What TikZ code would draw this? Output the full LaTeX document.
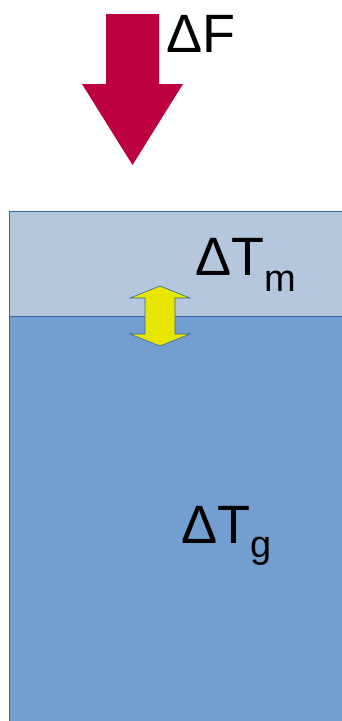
\documentclass[tikz,border=0pt]{standalone}
\usepackage{fontspec}
\setmainfont{Liberation Sans}
\definecolor{forcered}{RGB}{190,0,65}
\definecolor{mixlight}{RGB}{180,199,220}
\definecolor{deepblue}{RGB}{114,159,207}
\definecolor{edgeblue}{RGB}{52,101,164}
\definecolor{arrowyellow}{RGB}{230,230,0}
\tikzset{
  biglabel/.style={anchor=base west, inner sep=0pt, outer sep=0pt, font=\fontsize{54}{58}\selectfont},
  layer/.style={draw=edgeblue, line width=0.8pt},
}
\newcommand{\sublbl}[2]{\raisebox{-#2pt}{\fontsize{38}{40}\selectfont #1}}
\begin{document}
\begin{tikzpicture}[x=1pt,y=1pt]
\useasboundingbox (0,0) rectangle (341,-721);
% layers
\fill[deepblue] (9,-316) rectangle (346,-726);
\fill[mixlight] (9,-211) rectangle (346,-316);
\draw[layer] (346,-211) -- (9,-211) -- (9,-726);
\draw[layer] (9,-316) -- (346,-316);
% forcing arrow
\fill[forcered] (106,-14) -- (159,-14) -- (159,-84) -- (183,-84) -- (132.5,-165) -- (82,-84) -- (106,-84) -- cycle;
% exchange double arrow
\filldraw[fill=arrowyellow, draw=edgeblue, line width=0.6pt]
  (160,-286) -- (190,-298) -- (175,-298) -- (175,-334) -- (190,-334) -- (160,-346)
  -- (130,-334) -- (145,-334) -- (145,-298) -- (130,-298) -- cycle;
% labels
\node[biglabel] (dF) at (166,-52) {ΔF};
\node[biglabel] (dTm) at (195,-275) {ΔT\sublbl{m}{16}};
\node[biglabel] (dTg) at (181,-543) {ΔT\sublbl{g}{14}};
\end{tikzpicture}
\end{document}
